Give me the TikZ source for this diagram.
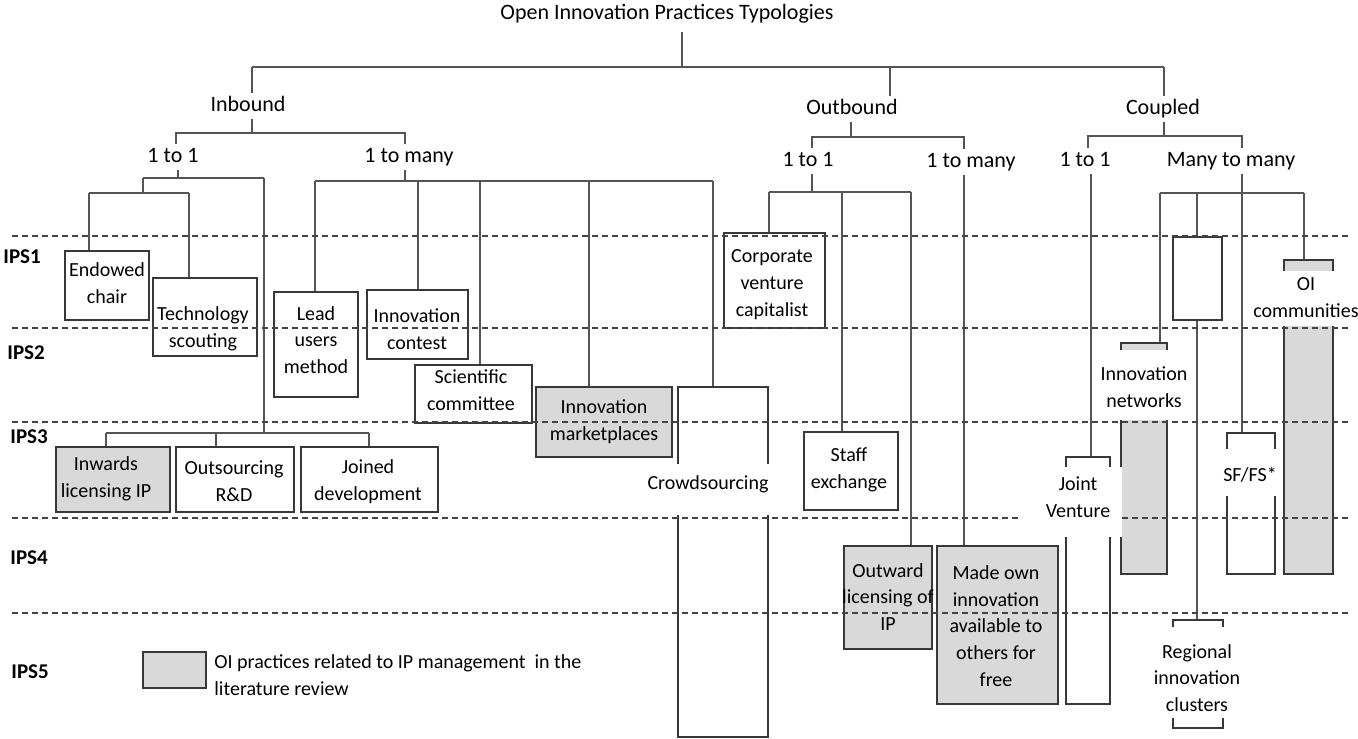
\documentclass[tikz,border=0pt]{standalone}
\usepackage{fontspec}
\setmainfont{Carlito}
\usetikzlibrary{fit}
\definecolor{linec}{HTML}{555555}
\definecolor{boxc}{HTML}{383838}
\definecolor{greyf}{HTML}{D9D9D9}
\definecolor{dashc}{HTML}{444444}
\begin{document}
\begin{tikzpicture}[x=0.5pt,y=-0.5pt,
  conn/.style={draw=linec, line width=1pt},
  box/.style={draw=boxc, line width=1pt, inner sep=0pt},
  gbox/.style={box, fill=greyf},
  txt/.style={align=center, font=\fontsize{10}{13.4}\selectfont, inner sep=0pt, text=black},
  lab/.style={font=\fontsize{11}{13}\selectfont, inner sep=1.5pt, text height=7.5pt, text depth=2.3pt},
  mask/.style={fill=white, inner sep=0pt},
  ips/.style={font=\fontsize{10.5}{12}\selectfont\bfseries, anchor=west, inner sep=0pt},
  sep/.style={draw=dashc, line width=0.75pt, dash pattern=on 3pt off 2pt}]
\useasboundingbox (0,0) rectangle (1358,738);

% ---------- boxes ----------
\node[box, fit={(65,251)(149,320)}] (endowed) {};
\node[box, fit={(153,278)(257,356)}] (techscout) {};
\node[box, fit={(274,292)(358,397)}] (leadusers) {};
\node[box, fit={(367,290)(468,359)}] (contest) {};
\node[box, fit={(415,365)(532,423)}] (scicomm) {};
\node[gbox, fit={(536,387)(672,457)}] (market) {};
\node[box, fit={(678,387)(768,737)}] (crowd) {};
\node[gbox, fit={(56,447)(170,512)}] (inwards) {};
\node[box, fit={(176,447)(294,512)}] (outsourcing) {};
\node[box, fit={(301,447)(438,512)}] (joined) {};
\node[box, fit={(724,233)(825,328)}] (corporate) {};
\node[box, fit={(804,432)(898,510)}] (staff) {};
\node[gbox, fit={(844,546)(932,649)}] (outward) {};
\node[gbox, fit={(937,546)(1058,704)}] (madeown) {};
\node[box, fit={(1066,457)(1110,704)}] (jv) {};
\node[gbox, fit={(1121,343)(1167,574)}] (innonet) {};
\node[box, fit={(1173,237)(1222,320)}] (emptybox) {};
\node[box, fit={(1173,620)(1223,728)}] (regional) {};
\node[box, fit={(1227,433)(1275,574)}] (sffs) {};
\node[gbox, fit={(1284,260)(1333,574)}] (oicomm) {};
\node[gbox, fit={(143,652)(206,688)}] (legendbox) {};

% ---------- labels ----------
\node[lab] (title) at (667,14) {Open Innovation Practices Typologies};
\node[lab] (inbound) at (248,106) {Inbound};
\node[lab] (outbound) at (852,109) {Outbound};
\node[lab] (coupled) at (1163,109) {Coupled};
\node[lab] (in11) at (173,157) {1 to 1};
\node[lab] (in1m) at (409,157) {1 to many};
\node[lab] (out11) at (808,161) {1 to 1};
\node[lab] (out1m) at (971,162) {1 to many};
\node[lab] (cp11) at (1085,161) {1 to 1};
\node[lab] (cpmm) at (1231,161) {Many to many};

% ---------- connectors ----------
\coordinate (t0) at (682,67);
\coordinate (tInb) at (252,67);
\coordinate (tOut) at (890,67);
\coordinate (tCp) at (1164,67);
\draw[conn] ([yshift=-2.5pt]title.south -| t0) -- (t0);
\draw[conn] (tInb) -- (tCp);
\draw[conn] (tInb) -- (tInb |- inbound.north);
\draw[conn] (tOut) -- (tOut |- outbound.north);
\draw[conn] (tCp) -- (tCp |- coupled.north);

% inbound
\coordinate (ib) at (252,133);
\coordinate (ibL) at (176,133);
\coordinate (ibR) at (405,133);
\draw[conn] (inbound.south -| ib) -- (ib);
\draw[conn] (ibL |- in11.north) -- (ibL) -- (ibR) -- (ibR |- in1m.north);
% inbound 1 to 1
\coordinate (a0) at (178,178);
\coordinate (aL) at (143,178);
\coordinate (aR) at (264,178);
\coordinate (b0) at (143,193);
\coordinate (bL) at (89,193);
\coordinate (bR) at (189,193);
\draw[conn] (in11.south -| a0) -- (a0);
\draw[conn] (aL) -- (aR);
\draw[conn] (aL) -- (b0);
\draw[conn] (bL) -- (bR);
\draw[conn] (bL) -- (bL |- endowed.north);
\draw[conn] (bR) -- (bR |- techscout.north);
\coordinate (c0) at (264,433);
\coordinate (cL) at (106,433);
\coordinate (cM) at (216,433);
\coordinate (cR) at (369,433);
\draw[conn] (aR) -- (c0);
\draw[conn] (cL) -- (cR);
\draw[conn] (cL) -- (cL |- inwards.north);
\draw[conn] (cM) -- (cM |- outsourcing.north);
\draw[conn] (cR) -- (cR |- joined.north);
% inbound 1 to many
\coordinate (d0) at (405,181);
\coordinate (dL) at (315,181);
\coordinate (d2) at (418,181);
\coordinate (d3) at (480,181);
\coordinate (d4) at (589,181);
\coordinate (dR) at (713,181);
\draw[conn] (in1m.south -| d0) -- (d0);
\draw[conn] (dL) -- (dR);
\draw[conn] (dL) -- (dL |- leadusers.north);
\draw[conn] (d2) -- (d2 |- contest.north);
\draw[conn] (d3) -- (d3 |- scicomm.north);
\draw[conn] (d4) -- (d4 |- market.north);
\draw[conn] (dR) -- (dR |- crowd.north);

% outbound
\coordinate (ob) at (851,137);
\coordinate (obL) at (812,137);
\coordinate (obR) at (964,137);
\draw[conn] (outbound.south -| ob) -- (ob);
\draw[conn] (obL |- out11.north) -- (obL) -- (obR) -- (obR |- out1m.north);
\coordinate (e0) at (812,192);
\coordinate (eL) at (769,192);
\coordinate (eM) at (842,192);
\coordinate (eR) at (911,192);
\draw[conn] (out11.south -| e0) -- (e0);
\draw[conn] (eL) -- (eR);
\draw[conn] (eL) -- (eL |- corporate.north);
\draw[conn] (eM) -- (eM |- staff.north);
\draw[conn] (eR) -- (eR |- outward.north);
\draw[conn] (out1m.south -| obR) -- (obR |- madeown.north);

% coupled
\coordinate (cb) at (1164,136);
\coordinate (cbL) at (1088,136);
\coordinate (cbR) at (1242,136);
\draw[conn] (coupled.south -| cb) -- (cb);
\draw[conn] (cbL |- cp11.north) -- (cbL) -- (cbR) -- (cbR |- cpmm.north);
\coordinate (jvx) at (1091,200);
\draw[conn] (cp11.south -| jvx) -- (jvx |- jv.north);
\coordinate (f0) at (1242,193);
\coordinate (fL) at (1160,193);
\coordinate (fM) at (1197,193);
\coordinate (fR) at (1304,193);
\draw[conn] (cpmm.south -| f0) -- (f0 |- sffs.north);
\draw[conn] (fL) -- (fR);
\draw[conn] (fL) -- (fL |- innonet.north);
\draw[conn] (fM) -- (fM |- emptybox.north);
\draw[conn] (fR) -- (fR |- oicomm.north);
\draw[conn] (emptybox.south -| fM) -- (fM |- regional.north);

% ---------- level separators ----------
\foreach \yy in {236,328,422,518,613}
  \draw[sep] (12,\yy) -- (1348,\yy);

% ---------- masks for tall boxes ----------
\node[mask, fit={(640,464)(776,515)}] (crowdM) {};
\node[mask, fit={(1020,467)(1122,537)}] (jvM) {};
\node[mask, fit={(1095,350)(1192,420)}] (innonetM) {};
\node[mask, fit={(1150,627)(1245,718)}] (regionalM) {};
\node[mask, fit={(1222,449)(1280,496)}] (sffsM) {};
\node[mask, fit={(1250,271)(1358,326)}] (oicommM) {};

% ---------- texts ----------
\node[txt] (crowdT) at (708,484) {Crowdsourcing};
\node[txt] (jvT) at (1078,497.5) {Joint\\Venture};
\node[txt] (innonetT) at (1144,387.5) {Innovation\\networks};
\node[txt] (regionalT) at (1197,678) {Regional\\innovation\\clusters};
\node[txt] (sffsT) at (1250,475) {SF/FS*};
\node[txt] (oicommT) at (1306,297.5) {OI\\communities};

\node[txt] (endowedT) at (107,283) {Endowed\\chair};
\node[txt] (techT) at (203,328.5) {Technology\\scouting};
\node[txt] (leadT) at (316,340) {Lead\\users\\method};
\node[txt] (contestT) at (417,329) {Innovation\\contest};
\node[txt] (sciT) at (471,390.5) {Scientific\\committee};
\node[txt] (marketT) at (604,422) {Innovation\\marketplaces};
\node[txt] (inwardsT) at (106,479) {Inwards\\licensing IP};
\node[txt] (outsT) at (234,481.5) {Outsourcing\\R\&D};
\node[txt] (joinedT) at (368,481.5) {Joined\\development};
\node[txt] (corpT) at (772,284.5) {Corporate\\venture\\capitalist};
\node[txt] (staffT) at (849,470) {Staff\\exchange};
\node[txt] (outwardT) at (888,597) {Outward\\licensing of\\IP};
\node[txt] (madeT) at (996,626) {Made own\\innovation\\available to\\others for\\free};
\node[txt, align=left, anchor=west] (legendT) at (214,675) {OI practices related to IP management\ \ in the\\literature review};

% ---------- level labels ----------
\node[ips] (ips1) at (3,257) {IPS1};
\node[ips] (ips2) at (7,353) {IPS2};
\node[ips] (ips3) at (10,437) {IPS3};
\node[ips] (ips4) at (10,558) {IPS4};
\node[ips] (ips5) at (11,672) {IPS5};
\end{tikzpicture}
\end{document}
